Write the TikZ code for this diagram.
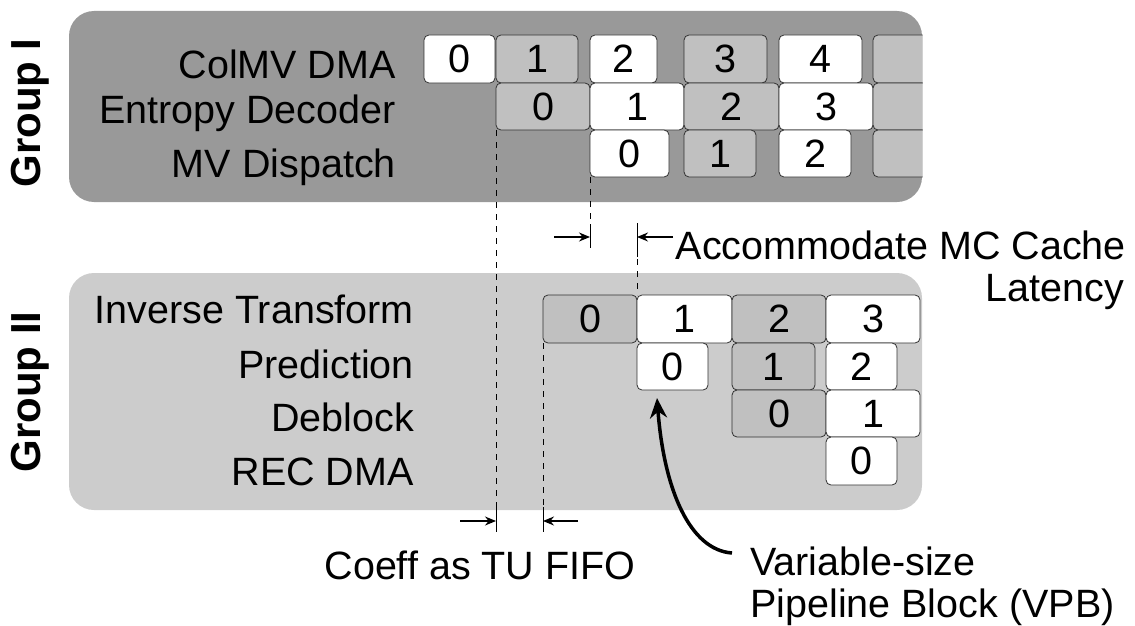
\documentclass[tikz,border=0pt]{standalone}
\usepackage{fontspec}
\setmainfont{Liberation Sans}
\usetikzlibrary{arrows.meta}
\definecolor{panelI}{RGB}{153,153,153}
\definecolor{panelII}{RGB}{204,204,204}
\definecolor{boxgray}{RGB}{192,192,192}
\definecolor{edge}{RGB}{50,50,50}
\newcommand\lblfont{\fontsize{39.5}{46}\selectfont}
\newcommand\bx[7]{\node[blk,fill=#6,minimum width={(#4-#2)*1pt},minimum height={(#5-#3)*1pt}] (#1) at ({(#2+#4)/2},{(#3+#5)/2}) {#7};}
\begin{document}
\begin{tikzpicture}[x=1pt,y=-1pt,
  blk/.style={draw=edge,line width=0.8pt,rounded corners=5pt,inner sep=0pt,outer sep=0pt,font=\lblfont},
  stagelbl/.style={anchor=base east,inner sep=0pt,font=\lblfont},
  grplbl/.style={rotate=90,inner sep=0pt,font=\fontsize{42}{46}\selectfont\bfseries},
  note/.style={inner sep=0pt,font=\lblfont},
  guide/.style={draw=black,line width=0.9pt,dash pattern=on 6pt off 6pt},
  tick/.style={draw=black,line width=1pt},
  dimarr/.style={draw=black,line width=1.3pt,-{Stealth[length=11pt,width=9pt]}},
  bigarr/.style={draw=black,line width=3.5pt,-{Stealth[length=20pt,width=17pt]}}]
\useasboundingbox (0,0) rectangle (1135,626);
% panels
\fill[panelI,rounded corners=25pt] (69,11) rectangle (922,202);
\fill[panelII,rounded corners=25pt] (69,273) rectangle (922,510);
% group labels
\node[grplbl] (g1) at (30,113) {Group I};
\node[grplbl] (g2) at (30,392) {Group II};
% stage labels
\node[stagelbl] (l1) at (396,78) {ColMV DMA};
\node[stagelbl] (l2) at (396,123) {Entropy Decoder};
\node[stagelbl] (l3) at (396,177) {MV Dispatch};
\node[stagelbl] (l4) at (414,323) {Inverse Transform};
\node[stagelbl] (l5) at (414,378) {Prediction};
\node[stagelbl] (l6) at (414,431) {Deblock};
\node[stagelbl] (l7) at (414,485) {REC DMA};
% group I boxes
\bx{a0}{424}{35}{495}{83}{white}{0}
\bx{a1}{496}{35}{578}{83}{boxgray}{1}
\bx{a2}{590}{35}{657}{83}{white}{2}
\bx{a3}{684}{35}{767}{83}{boxgray}{3}
\bx{a4}{779}{35}{862}{83}{white}{4}
\bx{b0}{496}{83}{590}{130}{boxgray}{0}
\bx{b1}{590}{83}{684}{130}{white}{1}
\bx{b2}{684}{83}{779}{130}{boxgray}{2}
\bx{b3}{779}{83}{873}{130}{white}{3}
\bx{c0}{590}{130}{669}{177}{white}{0}
\bx{c1}{684}{130}{756}{177}{boxgray}{1}
\bx{c2}{779}{130}{851}{177}{white}{2}
\begin{scope}
\clip (0,0) rectangle (922.5,626);
\bx{a5}{873}{35}{940}{83}{boxgray}{}
\bx{b4}{873}{83}{940}{130}{boxgray}{}
\bx{c3}{873}{130}{940}{177}{boxgray}{}
\end{scope}
% group II boxes
\bx{d0}{543}{295}{637}{343}{boxgray}{0}
\bx{d1}{637}{295}{732}{343}{white}{1}
\bx{d2}{732}{295}{826}{343}{boxgray}{2}
\bx{d3}{826}{295}{920}{343}{white}{3}
\bx{e0}{637}{343}{708}{390}{white}{0}
\bx{e1}{732}{343}{815}{390}{boxgray}{1}
\bx{e2}{826}{343}{897}{390}{white}{2}
\bx{f0}{732}{390}{826}{437}{boxgray}{0}
\bx{f1}{826}{390}{920}{437}{white}{1}
\bx{g0}{826}{437}{897}{485}{white}{0}
% guide lines
\coordinate (gA) at (496,532);
\coordinate (gB) at (590,248);
\coordinate (gCtop) at (637,223);
\coordinate (gD) at (543,532);
\draw[guide] (b0.south west) -- (gA);
\draw[guide] (c0.south west) -- (gB);
\draw[guide] (gCtop) -- (d0.north east);
\draw[guide] (d0.south west) -- (gD);
% solid ticks
\coordinate (tB1) at (590,224); \coordinate (tB2) at (590,248);
\coordinate (tC1) at (637,223); \coordinate (tC2) at (637,257);
\coordinate (tA1) at (496,507); \coordinate (tA2) at (496,532);
\coordinate (tD1) at (543,507); \coordinate (tD2) at (543,532);
\draw[tick] (tB1) -- (tB2);
\draw[tick] (tC1) -- (tC2);
\draw[tick] (tA1) -- (tA2);
\draw[tick] (tD1) -- (tD2);
% dimension arrows
\coordinate (m1s) at (554,237); \coordinate (m1e) at (590,237);
\coordinate (m2s) at (673,237); \coordinate (m2e) at (637,237);
\coordinate (m3s) at (460,521); \coordinate (m3e) at (496,521);
\coordinate (m4s) at (578,521); \coordinate (m4e) at (543,521);
\draw[dimarr] (m1s) -- (m1e);
\draw[dimarr] (m2s) -- (m2e);
\draw[dimarr] (m3s) -- (m3e);
\draw[dimarr] (m4s) -- (m4e);
% notes
\node[note,anchor=base east] (acc1) at (1126,259) {Accommodate MC Cache};
\node[note,anchor=base east] (acc2) at (1124,301) {Latency};
\node[note,anchor=base] (coeff) at (480,579) {Coeff as TU FIFO};
\node[note,anchor=base west] (vpb1) at (750,575) {Variable-size};
\node[note,anchor=base west] (vpb2) at (750,617) {Pipeline Block (VPB)};
% curved arrow
\coordinate (cs) at (732,553);
\coordinate (ct) at (657,398);
\draw[bigarr] (cs) .. controls (690,550) and (664,490) .. (ct);
\end{tikzpicture}
\end{document}
